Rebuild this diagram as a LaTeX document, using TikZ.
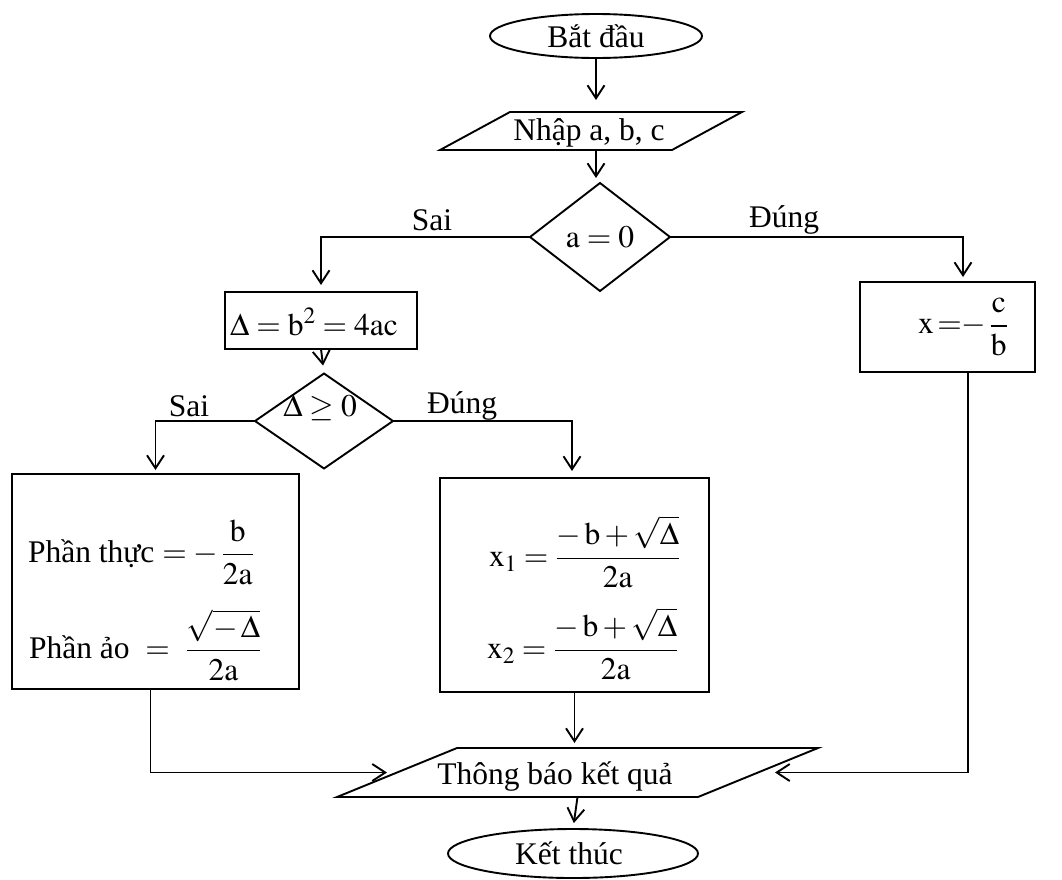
\documentclass[tikz,border=0pt]{standalone}
\usepackage{amsmath}
\usepackage{mathptmx}
\usepackage{fontspec}
\setmainfont{Liberation Serif}
\usetikzlibrary{shapes.geometric,arrows.meta,calc}
\begin{document}
\begin{tikzpicture}[x=1pt,y=-1pt,
  font=\fontsize{31.5}{38}\selectfont,
  every node/.style={inner sep=0pt, outer sep=0pt},
  ln/.style={line width=1.9pt},
  arr/.style={ln, -{Straight Barb[length=13pt,width=17pt]}},
  term/.style={ellipse, draw, ln},
  iobox/.style={rectangle},
  dec/.style={diamond, draw, ln},
  proc/.style={rectangle, draw, ln},
  lbl/.style={}]
\useasboundingbox (0,0) rectangle (1062,879);

% nodes
\node[term, minimum width=212pt, minimum height=44pt] (start) at (596,36) {Bắt đầu};
\node[iobox, minimum width=232pt, minimum height=38pt] (inp) at (591,131) {};
\draw[ln] ([xshift=-35pt]inp.south west) -- ([xshift=-35pt]inp.south east)
  -- ([xshift=35pt]inp.north east) -- ([xshift=35pt]inp.north west) -- cycle;
\node (inpt) at (589,133) {Nhập a, b, c};
\node[dec, minimum width=140pt, minimum height=108pt] (d1) at (600,237) {$\mathrm{a}=0$};
\node[lbl] (sai1) at (432,220) {Sai};
\node[lbl] (dung1) at (784,220) {Đúng};

\node[proc, minimum width=192pt, minimum height=57pt] (delta) at (321,320.5) {};
\node (deltat) at (314,322) {$\Delta=\mathrm{b}^{2}=4\mathrm{ac}$};

\node[dec, minimum width=138pt, minimum height=95pt] (d2) at (324,421) {};
\node (d2t) at (320,408) {$\Delta\geq 0$};
\node[lbl] (sai2) at (189,406) {Sai};
\node[lbl] (dung2) at (462,406) {Đúng};

\node[proc, minimum width=175pt, minimum height=90pt] (xc) at (947.5,327) {};
\node (xct) at (963,327) {$\mathrm{x}\,{=}{-}\,\dfrac{\mathrm{c}}{\mathrm{b}}$};

\node[proc, minimum width=287pt, minimum height=215pt] (L) at (155.5,581.5) {};
\node[anchor=west] (L1) at (28,552) {Phần thực $=-\,\dfrac{\mathrm{b}}{2\mathrm{a}}$};
\node[anchor=west] (L2) at (29,645) {Phần ảo\ \ $=$\ \ $\dfrac{\sqrt{-\,\Delta}}{2\mathrm{a}}$};

\node[proc, minimum width=269pt, minimum height=214pt] (R) at (574.5,585) {};
\node[anchor=west] (R1) at (489,552) {$\mathrm{x}_{1}=\dfrac{-\,\mathrm{b}+\sqrt{\Delta}}{2\mathrm{a}}$};
\node[anchor=west] (R2) at (487,644) {$\mathrm{x}_{2}=\dfrac{-\,\mathrm{b}+\sqrt{\Delta}}{2\mathrm{a}}$};

\node[iobox, minimum width=361pt, minimum height=49pt] (out) at (577.5,772.5) {};
\draw[ln] ([xshift=-60pt]out.south west) -- ([xshift=-60pt]out.south east)
  -- ([xshift=60pt]out.north east) -- ([xshift=60pt]out.north west) -- cycle;
\node (outt) at (555,776) {Thông báo kết quả};

\node[term, minimum width=250pt, minimum height=49pt] (end) at (573,853.5) {};
\node (endt) at (569,853) {Kết thúc};

% connectors
\draw[arr, shorten >=12pt] (start.south) -- (start.south |- inp.north);
\draw[arr, shorten >=5pt] ([xshift=5pt]inp.south) -- ([xshift=-4pt]d1.north);
\draw[arr, shorten >=7pt] (d1.west) -| (delta.north);
\draw[arr, shorten >=5pt] (d1.east) -| ([xshift=15.5pt]xc.north);
\draw[arr, shorten >=8pt] (delta.south) -- (d2.north);
\draw[arr, shorten >=4pt] (d2.west) -| (L.north);
\draw[arr, shorten >=7pt] (d2.east) -| ([xshift=-2.5pt]R.north);
\draw[arr, shorten >=5pt] (R.south) -- (R.south |- out.north);
\draw[arr, shorten >=10pt] ([xshift=-5pt]L.south) |- (out.west);
\draw[arr, shorten >=17pt] ([xshift=20.5pt]xc.south) |- (out.east);
\draw[arr, shorten >=6pt] (out.south) -- (end.north);
\end{tikzpicture}
\end{document}
